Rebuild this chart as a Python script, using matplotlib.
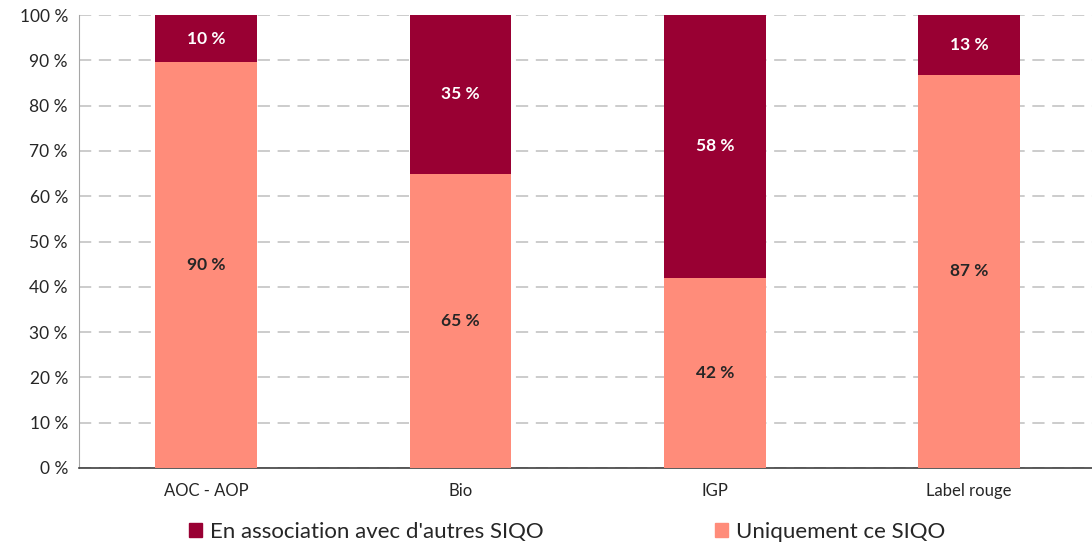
import matplotlib
matplotlib.use("Agg")
import matplotlib.pyplot as plt
from matplotlib.patches import Patch
import numpy as np

categories = ["AOC - AOP", "Bio", "IGP", "Label rouge"]
uniquement = [89.6, 65.0, 42.0, 86.8]
association = [10.4, 35.0, 58.0, 13.2]
series_names = ["En association avec d'autres SIQO", "Uniquement ce SIQO"]
yticks = list(range(0, 101, 10))

c_dark = "#990033"
c_light = "#FF8C7A"

plt.rcParams['font.family'] = ['Lato', 'DejaVu Sans']

fig = plt.figure(figsize=(10.92, 5.46), dpi=100)
ax = fig.add_axes([79/1092, 1-468/546, (1092-79)/1092, (468-15)/546])

x = np.arange(len(categories))
w = 0.4
ax.bar(x, uniquement, w, color=c_light, zorder=3)
ax.bar(x, association, w, bottom=uniquement, color=c_dark, zorder=3)

for xi, u, a in zip(x, uniquement, association):
    ax.text(xi, u/2, f"{round(u)} %", ha='center', va='center', fontsize=12.5,
            fontweight='bold', color='#262626', zorder=4)
    ax.text(xi, u + a/2, f"{round(a)} %", ha='center', va='center', fontsize=12.5,
            fontweight='bold', color='white', zorder=4)

ax.set_xlim(-0.5, 3.483)
ax.set_ylim(0, 100)
ax.set_yticks(yticks)
ax.set_yticklabels([f"{t} %" for t in yticks], fontsize=12.5, color='#262626')
ax.set_xticks(x)
ax.set_xticklabels(categories, fontsize=12, color='#262626')
ax.tick_params(axis='both', length=0, pad=8)
ax.tick_params(axis='x', pad=11)

ax.yaxis.grid(True, color='#BFBFBF', linestyle=(0, (8, 5)), linewidth=1.1, zorder=0)
for s in ['top', 'right']:
    ax.spines[s].set_visible(False)
ax.spines['left'].set_color('#A6A6A6')
ax.spines['bottom'].set_color('#404040')
ax.spines['bottom'].set_linewidth(1.2)

handles = [Patch(color=c_dark), Patch(color=c_light)]
fig.legend(handles, series_names, loc='center', bbox_to_anchor=(567/1092, 1-532/546),
           ncol=2, frameon=False, fontsize=16, handlelength=0.6, handleheight=0.6,
           handletextpad=0.35, columnspacing=7.7, labelcolor='#262626')

fig.savefig("out.png", dpi=100)
